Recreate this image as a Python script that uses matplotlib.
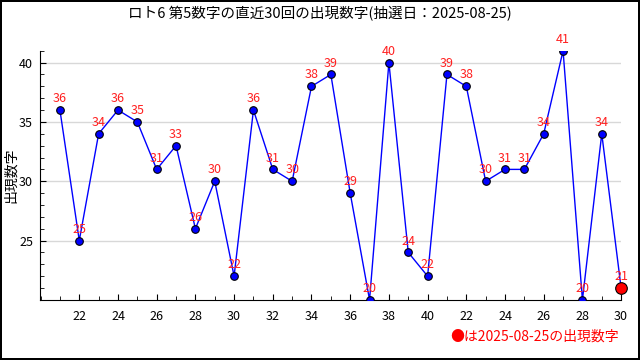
import numpy as np
import matplotlib
matplotlib.use("Agg")
import matplotlib.pyplot as plt
from matplotlib.ticker import MultipleLocator, FixedLocator, FixedFormatter

plt.rcParams['font.family'] = ['Noto Sans CJK JP', 'DejaVu Sans']

# draw numbers (shown on x axis) and the 5th number of each draw
draw_labels = [21, 22, 23, 24, 25, 26, 27, 28, 29, 30,
               31, 32, 33, 34, 35, 36, 37, 38, 39, 40,
               21, 22, 23, 24, 25, 26, 27, 28, 29, 30]
numbers = [36, 25, 34, 36, 35, 31, 33, 26, 30, 22,
           36, 31, 30, 38, 39, 29, 20, 40, 24, 22,
           39, 38, 30, 31, 31, 34, 41, 20, 34, 21]
title = "ロト6 第5数字の直近30回の出現数字(抽選日：2025-08-25)"
note = "●は2025-08-25の出現数字"

x = np.arange(len(numbers))

fig = plt.figure(figsize=(6.4, 3.6), dpi=100)
fig.patch.set_edgecolor('black')
fig.patch.set_linewidth(1.5)
ax = fig.add_axes([0.0625, 0.167, 0.908, 0.692])

ax.plot(x, numbers, color='#0000ff', linewidth=1, zorder=2)
ax.scatter(x[:-1], numbers[:-1], s=30, color='#0000ff', edgecolor='black',
           linewidth=0.8, zorder=3)
ax.scatter(x[-1:], numbers[-1:], s=70, color='#ff0000', edgecolor='black',
           linewidth=0.8, zorder=3, clip_on=False)

for xi, v in zip(x, numbers):
    ax.annotate(str(v), (xi, v), xytext=(0, 3.5), textcoords='offset points',
                ha='center', va='bottom', color='#ff2020', fontsize=9,
                annotation_clip=False)

ax.set_xlim(-1.03, len(numbers) - 1)
ax.set_ylim(20, 41)
ax.yaxis.set_major_locator(FixedLocator([25, 30, 35, 40]))
ax.yaxis.set_minor_locator(MultipleLocator(1))
major_x = list(range(1, len(numbers), 2))
ax.xaxis.set_major_locator(FixedLocator(major_x))
ax.xaxis.set_major_formatter(FixedFormatter([str(draw_labels[i]) for i in major_x]))
ax.xaxis.set_minor_locator(MultipleLocator(1))

ax.tick_params(which='both', direction='in', labelsize=9)
ax.tick_params(which='major', length=4)
ax.tick_params(which='minor', length=3)
ax.tick_params(axis='x', pad=7)
ax.tick_params(axis='y', pad=5)
ax.grid(axis='y', color='#d8d8d8', linewidth=1)
ax.set_axisbelow(True)
for side in ['top', 'right']:
    ax.spines[side].set_visible(False)

ax.set_ylabel("出現数字", fontsize=10)
ax.yaxis.set_label_coords(-0.038, 0.5)
fig.text(0.5, 0.962, title, ha='center', va='center', fontsize=10.5)
fig.text(0.967, 0.065, note, ha='right', va='center', color='#ff0000', fontsize=10)

fig.savefig("out.png", dpi=100)
